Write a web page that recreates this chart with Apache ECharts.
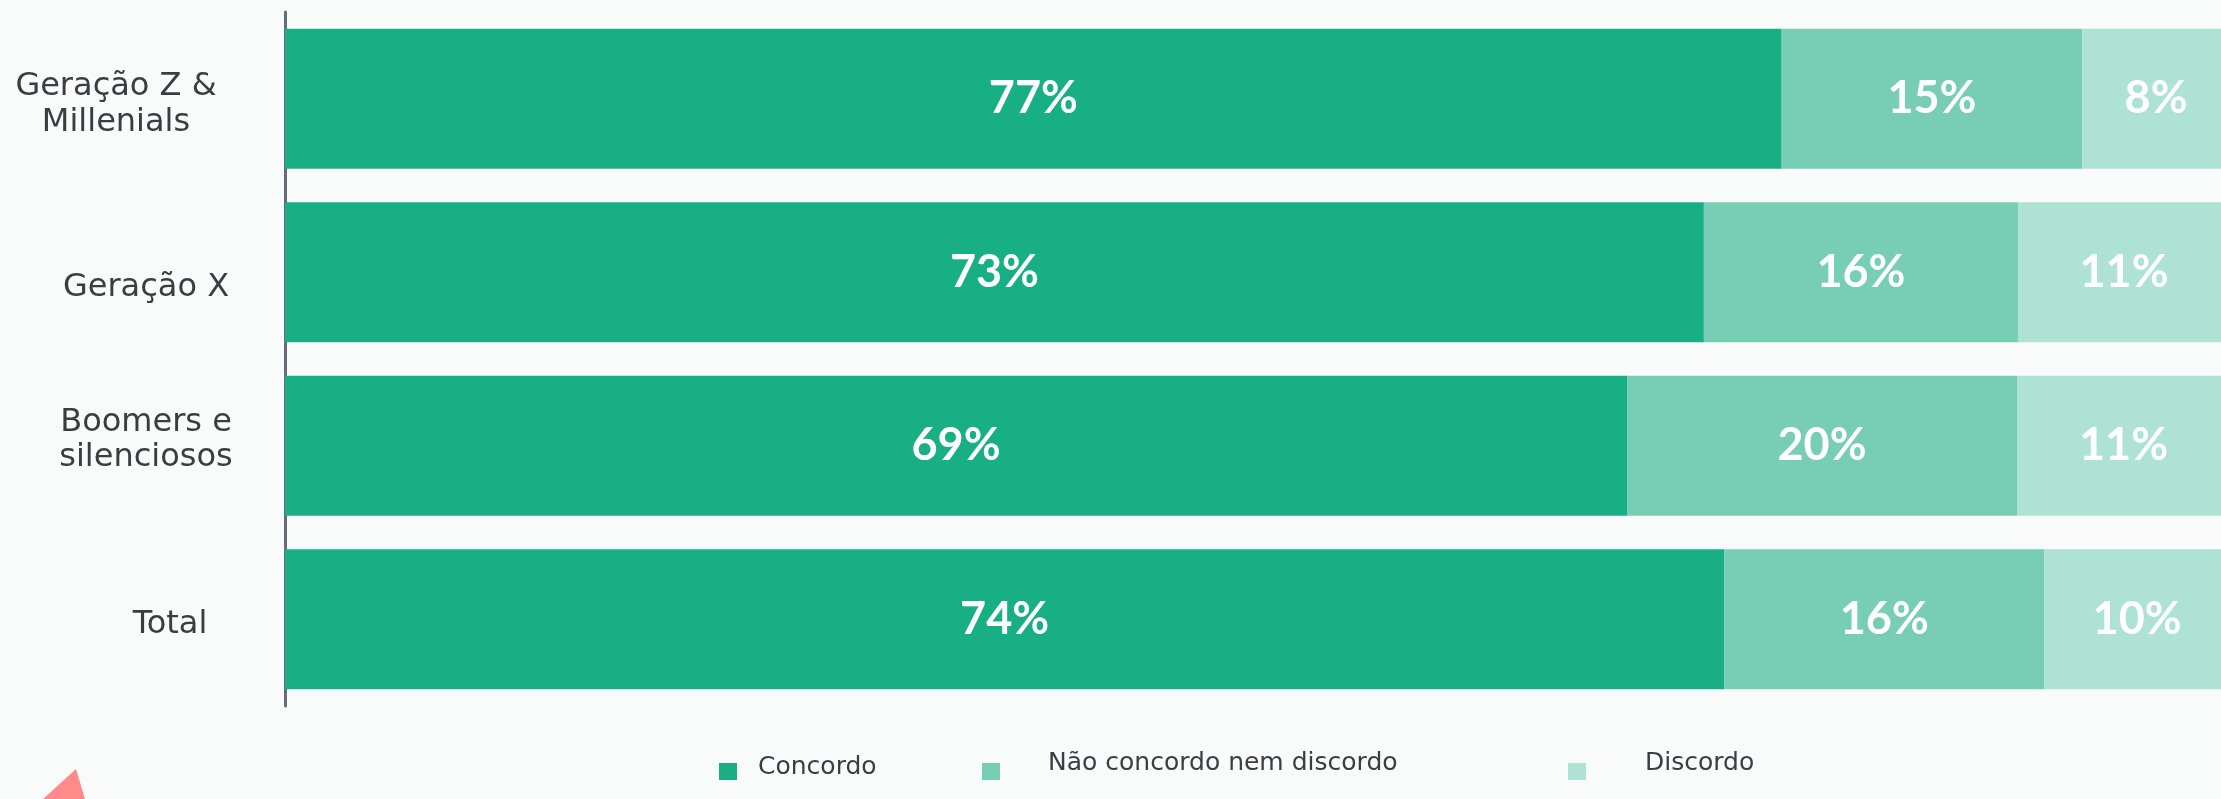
<!DOCTYPE html>
<html>
<head>
<meta charset="utf-8">
<script src="https://cdn.jsdelivr.net/npm/echarts@6/dist/echarts.min.js"></script>
<style>
  html, body { margin: 0; padding: 0; background: #f9fbfa; }
  #chart { width: 2221px; height: 799px; }
</style>
</head>
<body>
<div id="chart"></div>
<script>
// ---- data ----
const categories = ['Geração Z &\nMillenials', 'Geração X', 'Boomers e\nsilenciosos', 'Total'];
const seriesNames = ['Concordo', 'Não concordo nem discordo', 'Discordo'];
const concordo = [76.95, 72.95, 69.0, 74.0];
const neutro   = [15.45, 16.15, 20.05, 16.45];
const discordo = [7.6, 10.9, 10.95, 9.55];

// ---- styles ----
const colors = ['#19af85', '#77ceb5', '#ade2d4'];
const labelShiftX = [-30, 0, 0, 24];   // px shift of each category label centre
const labelShiftY = [4, 12, -4, 2];
const legendLeft = [719, 982, 1568];
const legendTop = [755, 750.5, 750.5];
const legendTextPad = [[0, 0, 8, 16], [0, 0, 17, 43], [0, 0, 17, 54]];

const chart = echarts.init(document.getElementById('chart'));

const valueLabel = {
  show: true,
  position: 'inside',
  color: '#ffffff',
  fontFamily: 'Lato',
  fontWeight: 'bold',
  fontSize: 45,
  formatter: p => Math.round(p.value) + '%'
};

const LH = 39;
const yFont = { fontFamily: 'DejaVu Sans', fontSize: 32, lineHeight: LH, color: '#3a3d42' };

// rich styles for the category labels (per category)
const yRich = {};
categories.forEach((c, i) => {
  const sx = labelShiftX[i], sy = labelShiftY[i];
  const pad = [0, sx < 0 ? -2 * sx : 0, 0, sx > 0 ? 2 * sx : 0];
  yRich['t' + i] = Object.assign({}, yFont, { padding: pad });
  yRich['d' + i] = Object.assign({}, yFont, { padding: pad, verticalAlign: 'bottom' });
  yRich['u' + i] = Object.assign({}, yFont, { padding: pad, verticalAlign: 'top' });
  yRich['s' + i] = Object.assign({}, yFont, { lineHeight: LH + 2 * Math.abs(sy), width: 0 });
});

function yFormatter(value, idx) {
  const lines = value.split('\n');
  const sy = labelShiftY[idx];
  return lines.map((l, j) => {
    if (sy > 0 && j === 0) return '{s' + idx + '| }{d' + idx + '|' + l + '}';
    if (sy < 0 && j === lines.length - 1) return '{s' + idx + '| }{u' + idx + '|' + l + '}';
    return '{t' + idx + '|' + l + '}';
  }).join('\n');
}

const option = {
  backgroundColor: '#f9fbfa',
  animation: false,
  grid: { left: 285, top: 12, width: 1945, height: 694, containLabel: false, outerBoundsMode: 'none' },
  xAxis: { type: 'value', min: 0, max: 100, show: false },
  yAxis: {
    type: 'category',
    inverse: true,
    offset: 1.5,
    data: categories,
    axisTick: { show: false },
    axisLine: { show: true, lineStyle: { color: '#666d78', width: 3 } },
    axisLabel: Object.assign({
      interval: 0,
      margin: 137.5,
      align: 'center',
      verticalAlign: 'middle',
      rich: yRich,
      formatter: yFormatter
    }, yFont)
  },
  legend: [0, 1, 2].map(i => ({
    data: [seriesNames[i]],
    left: legendLeft[i],
    top: legendTop[i],
    padding: 0,
    itemWidth: 18,
    itemHeight: 17,
    icon: 'rect',
    selectedMode: false,
    formatter: '{t|{name}}',
    textStyle: {
      fontFamily: 'DejaVu Sans',
      fontSize: 25,
      color: '#3a3d42',
      rich: {
        t: {
          fontFamily: 'DejaVu Sans',
          fontSize: 25,
          lineHeight: 17,
          color: '#3a3d42',
          padding: legendTextPad[i]
        }
      }
    }
  })),
  series: [concordo, neutro, discordo].map((d, i) => ({
    name: seriesNames[i],
    type: 'bar',
    stack: 'total',
    barWidth: 140,
    data: d,
    itemStyle: { color: colors[i] },
    label: valueLabel
  })),
  graphic: [{
    type: 'polygon',
    shape: { points: [[43, 799], [76, 769], [85, 799]] },
    style: { fill: '#ff8a8a' },
    silent: true
  }]
};

chart.setOption(option);
</script>
</body>
</html>
